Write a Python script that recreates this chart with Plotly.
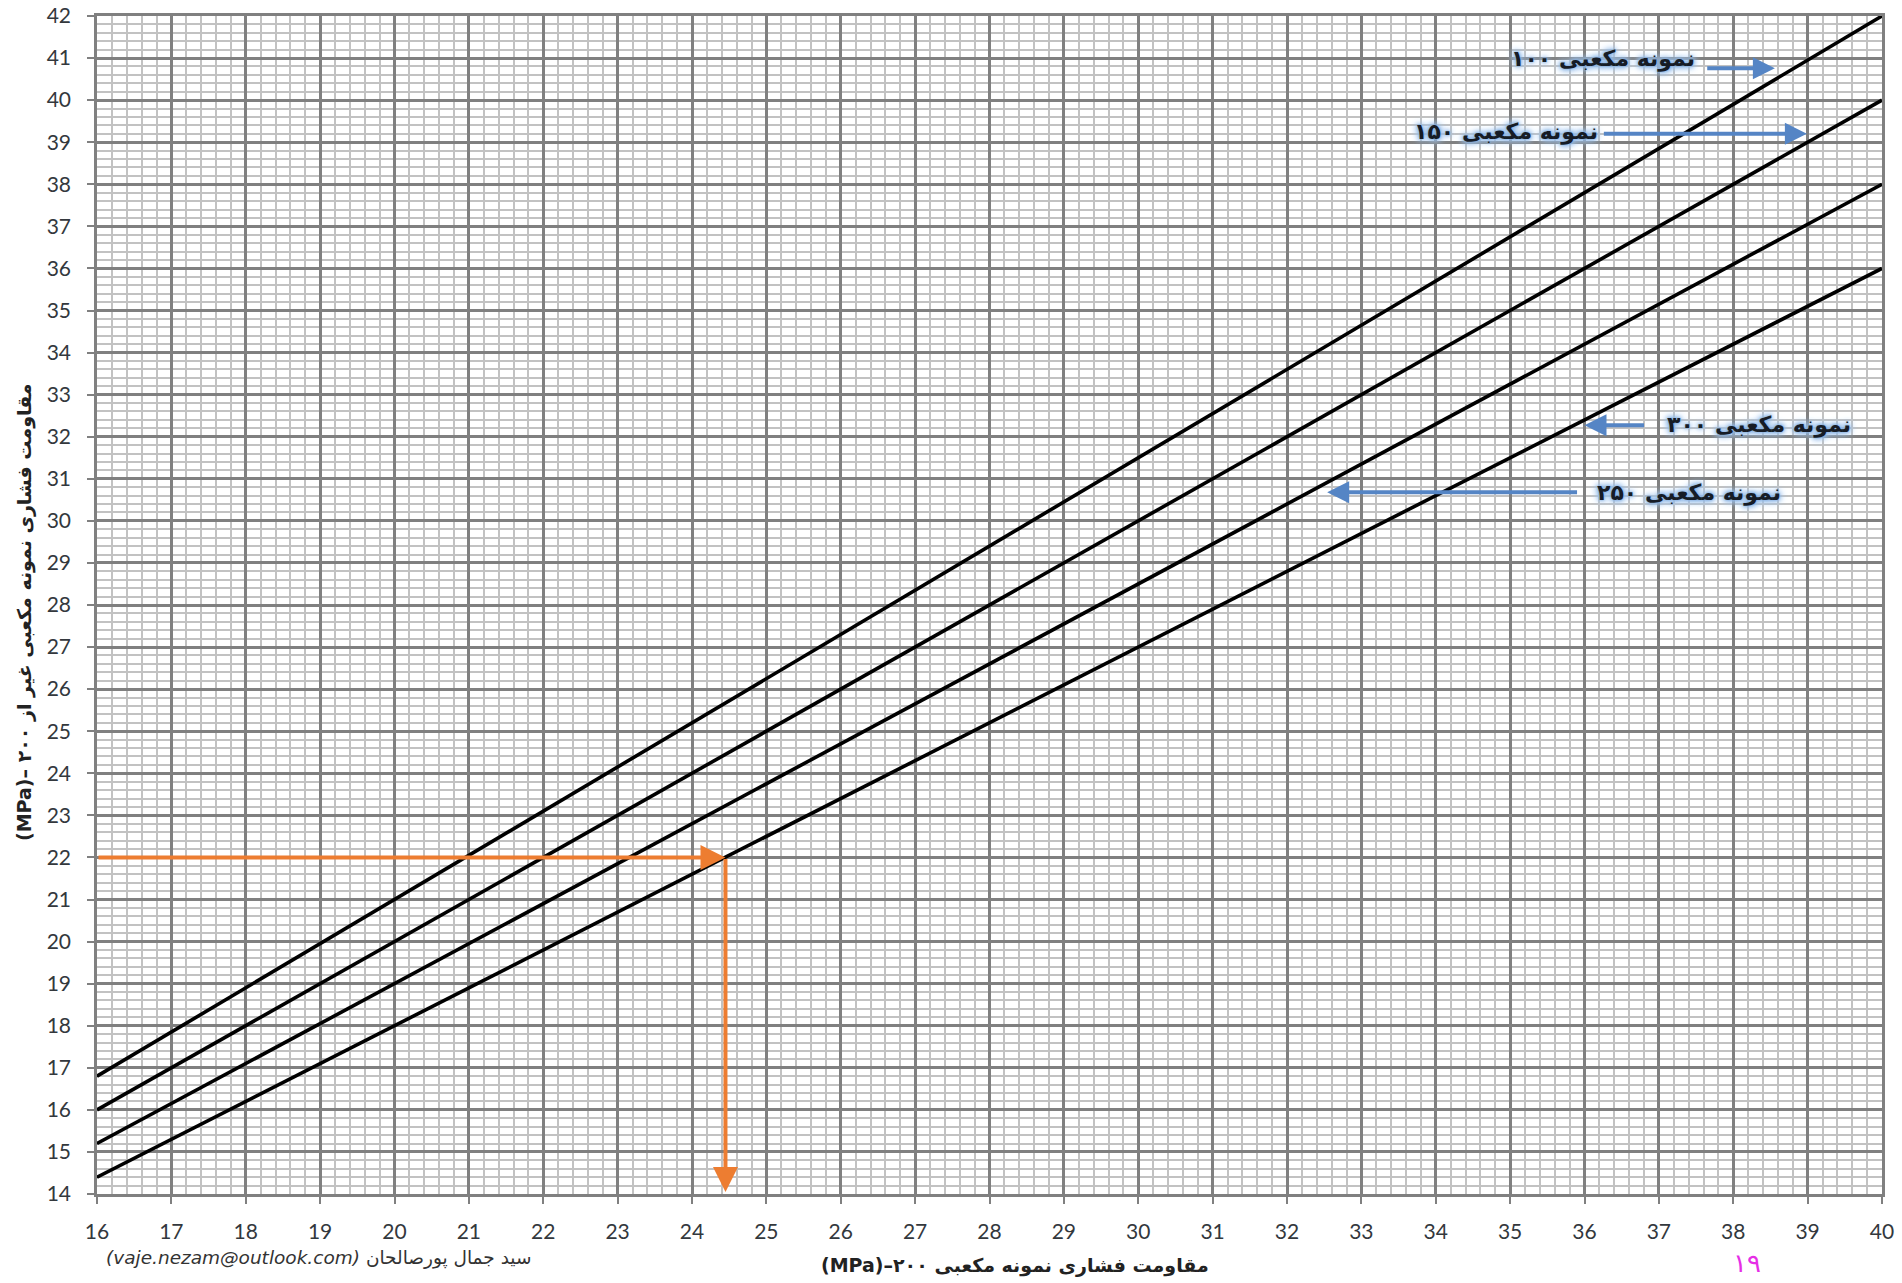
import plotly.graph_objects as go

# ---- data ----
x_ends = [16, 40]
series_names = ["نمونه مکعبی ۱۰۰", "نمونه مکعبی ۱۵۰", "نمونه مکعبی ۲۵۰", "نمونه مکعبی ۳۰۰"]
series_y = [
    [16.8, 42.0],   # 100 mm cube
    [16.0, 40.0],   # 150 mm cube
    [15.2, 38.0],   # 250 mm cube
    [14.4, 36.0],   # 300 mm cube
]
x_tick_vals = list(range(16, 41))
y_tick_vals = list(range(14, 43))

# worked example (orange arrows)
example_x = [16, 24.45]
example_y = [22, 14]

# label annotations: text position and arrow (tail -> head) in data units
label_text = ["نمونه مکعبی ۱۰۰", "نمونه مکعبی ۱۵۰", "نمونه مکعبی ۳۰۰", "نمونه مکعبی ۲۵۰"]
label_x = [36.25, 34.95, 38.35, 37.4]
label_y = [40.98, 39.25, 32.27, 30.66]
arrow_tail_x = [37.63, 36.24, 36.82, 35.92]
arrow_head_x = [38.56, 38.99, 36.0, 32.54]
arrow_y = [40.76, 39.2, 32.27, 30.68]

x_title = "(MPa)–مقاومت فشاری نمونه مکعبی ۲۰۰"
y_title = "(MPa)– مقاومت فشاری نمونه مکعبی غیر از ۲۰۰"
footer = "<i>(vaje.nezam@outlook.com)</i> سید جمال پورصالحان"
page_no = "۱۹"

fig = go.Figure()
for name, ys in zip(series_names, series_y):
    fig.add_trace(go.Scatter(x=x_ends, y=ys, mode="lines", name=name,
                             line=dict(color="black", width=3.6), showlegend=False))

axis_common = dict(
    showgrid=True, gridcolor="#808080", gridwidth=2.5, automargin=False,
    zeroline=False, showline=True, mirror=True, linecolor="#808080", linewidth=2.5,
    ticks="outside", ticklen=7, tickwidth=2, tickcolor="#808080",
    tickfont=dict(family="Lato, Open Sans, sans-serif", size=21, color="#33383d"),
    minor=dict(dtick=0.2, showgrid=True, gridcolor="#c2c2c2", gridwidth=1.5, ticks=""),
)
fig.update_xaxes(range=[16, 40], tickvals=x_tick_vals, ticklabelstandoff=10, **axis_common)
fig.update_yaxes(range=[14, 42], tickvals=y_tick_vals, ticklabelstandoff=12, **axis_common)

ann = []
orange = "#ed7d31"
# horizontal orange arrow
ann.append(dict(x=example_x[1], y=example_y[0], ax=example_x[0], ay=example_y[0],
                xref="x", yref="y", axref="x", ayref="y", text="", showarrow=True,
                arrowhead=2, arrowsize=1.25, arrowwidth=4, arrowcolor=orange))
# vertical orange arrow
ann.append(dict(x=example_x[1], y=example_y[1] + 0.05, ax=example_x[1], ay=example_y[0],
                xref="x", yref="y", axref="x", ayref="y", text="", showarrow=True,
                arrowhead=2, arrowsize=1.25, arrowwidth=4, arrowcolor=orange))

blue = "#5585c5"
glow = ("0px 0px 2px #86b0e4, 0px 0px 4px #86b0e4, 0px 0px 6px #94bce8, "
        "0px 0px 8px #a4c8ee, 0px 0px 10px #b4d2f2")
for t, tx, ty, x0, x1, yy in zip(label_text, label_x, label_y, arrow_tail_x, arrow_head_x, arrow_y):
    ann.append(dict(x=x1, y=yy, ax=x0, ay=yy, xref="x", yref="y", axref="x", ayref="y",
                    text="", showarrow=True, arrowhead=2, arrowsize=1.1, arrowwidth=4,
                    arrowcolor=blue))
    ann.append(dict(x=tx, y=ty, xref="x", yref="y", text=t, showarrow=False,
                    xanchor="center", yanchor="middle",
                    font=dict(family="DejaVu Sans", size=22, color="#161c26", weight="bold",
                              shadow=glow)))

# axis titles, footer, page number (pixel positions, converted below)
ann.append(dict(x=1015, y=1265, text=x_title, showarrow=False,
                font=dict(family="DejaVu Sans", size=19, color="#222222", weight="bold")))
ann.append(dict(x=24, y=612, text=y_title, showarrow=False, textangle=-90,
                font=dict(family="DejaVu Sans", size=19, color="#222222", weight="bold")))
ann.append(dict(x=318, y=1258, text=footer, showarrow=False,
                font=dict(family="DejaVu Sans", size=18.5, color="#333333")))
ann.append(dict(x=1747, y=1263, text=page_no, showarrow=False,
                font=dict(family="DejaVu Sans", size=26, color="#e62ee6")))

W, H = 1902, 1283
L, R, T, B = 97, 20, 16, 89
for a in ann:
    if "xref" not in a:
        a["xref"] = "paper"
        a["yref"] = "paper"
        a["xanchor"] = "center"
        a["yanchor"] = "middle"
        a["x"] = (a["x"] - L) / (W - L - R)
        a["y"] = (H - B - a["y"]) / (H - T - B)

fig.update_layout(
    width=W, height=H, autosize=False,
    margin=dict(l=L, r=R, t=T, b=B, autoexpand=False),
    paper_bgcolor="white", plot_bgcolor="white",
    annotations=ann,
)
fig.write_html("out.html", config={"displayModeBar": False},
               post_script="document.body.style.margin='0';document.body.style.overflow='hidden';")
